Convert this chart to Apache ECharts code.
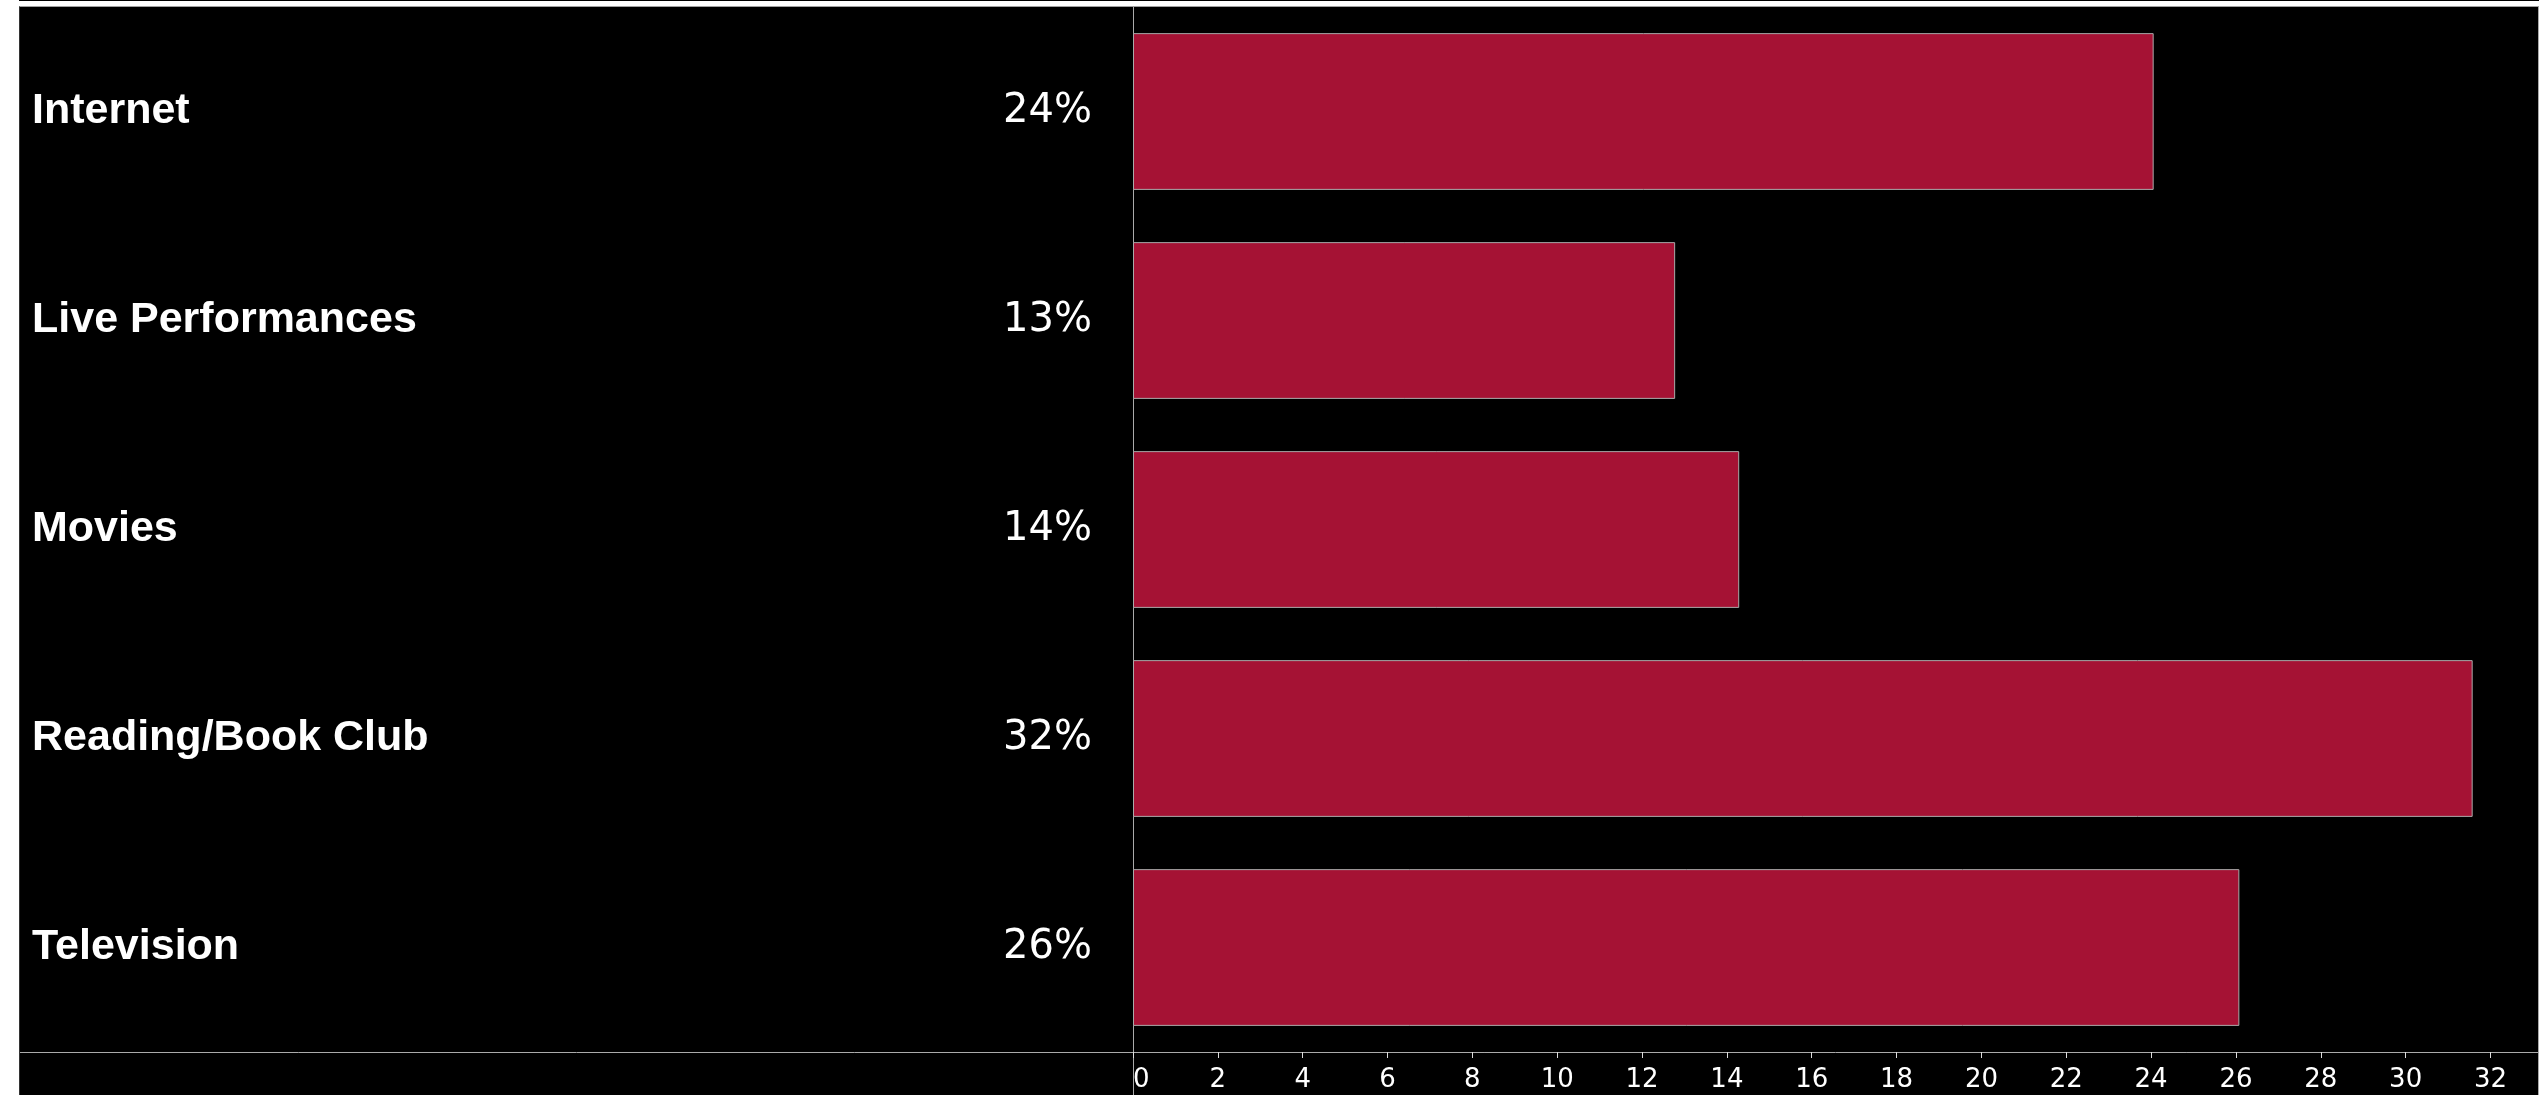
<!DOCTYPE html>
<html>
<head>
<meta charset="utf-8">
<script src="https://cdn.jsdelivr.net/npm/echarts@6/dist/echarts.min.js"></script>
<style>
  html, body { margin: 0; padding: 0; background: #ffffff; width: 2539px; height: 1095px; overflow: hidden; }
  #topline { position: absolute; left: 19px; top: 0; width: 2520px; height: 1px; background: #000; }
  #chart {
    position: absolute; left: 19px; top: 6px;
    width: 2518px; height: 1088px;
    background: #000000;
    border-top: 1px solid #a0a0a0;
    border-left: 1px solid #333333;
    border-right: 1px solid #aaaaaa;
  }
</style>
</head>
<body>
<div id="topline"></div>
<div id="chart"></div>
<script>
const categories = ['Internet', 'Live Performances', 'Movies', 'Reading/Book Club', 'Television'];
const values = [24.06, 12.78, 14.29, 31.58, 26.08];
const pctLabels = ['24%', '13%', '14%', '32%', '26%'];
const xTicks = [0, 2, 4, 6, 8, 10, 12, 14, 16, 18, 20, 22, 24, 26, 28, 30, 32];

const chart = echarts.init(document.getElementById('chart'), null, { renderer: 'canvas' });

const GRID_LEFT = 1113;
const GRID_BOTTOM = 43;
const W = 2518, H = 1088;

chart.setOption({
  animation: false,
  backgroundColor: '#000000',
  grid: { left: GRID_LEFT, right: 0, top: 0, bottom: GRID_BOTTOM, containLabel: false },
  xAxis: {
    type: 'value',
    min: 0,
    max: 33.12,
    interval: 2,
    splitLine: { show: false },
    axisLine: { show: true, lineStyle: { color: '#aaaaaa', width: 1 } },
    axisTick: { show: true, length: 6, lineStyle: { color: '#dddddd', width: 1 }, customValues: xTicks },
    axisLabel: {
      color: '#ffffff',
      fontFamily: 'DejaVu Sans',
      fontSize: 26,
      margin: 15,
      customValues: xTicks,
      alignMinLabel: 'left'
    }
  },
  yAxis: [
    {
      type: 'category',
      inverse: true,
      data: categories,
      position: 'left',
      axisLine: { show: true, lineStyle: { color: '#aaaaaa', width: 1 } },
      axisTick: { show: false },
      splitLine: { show: false },
      axisLabel: {
        align: 'left',
        margin: 1101,
        color: '#ffffff',
        fontFamily: 'Liberation Sans',
        fontWeight: 'bold',
        fontSize: 43
      }
    },
    {
      type: 'category',
      inverse: true,
      data: categories,
      position: 'left',
      axisLine: { show: false },
      axisTick: { show: false },
      splitLine: { show: false },
      axisLabel: {
        align: 'right',
        margin: 41,
        color: '#ffffff',
        fontFamily: 'DejaVu Sans',
        fontSize: 40,
        formatter: (v, i) => pctLabels[i]
      }
    }
  ],
  series: [{
    type: 'bar',
    data: values,
    yAxisIndex: 0,
    barCategoryGap: '25%',
    itemStyle: { color: '#A51234', borderColor: '#aaaaaa', borderWidth: 1 }
  }],
  graphic: [
    {
      type: 'line',
      silent: true,
      shape: { x1: 0, y1: H - GRID_BOTTOM + 0.5, x2: GRID_LEFT, y2: H - GRID_BOTTOM + 0.5 },
      style: { stroke: '#aaaaaa', lineWidth: 1 }
    },
    {
      type: 'line',
      silent: true,
      shape: { x1: GRID_LEFT + 0.5, y1: H - GRID_BOTTOM, x2: GRID_LEFT + 0.5, y2: H },
      style: { stroke: '#aaaaaa', lineWidth: 1 }
    }
  ]
});
</script>
</body>
</html>
